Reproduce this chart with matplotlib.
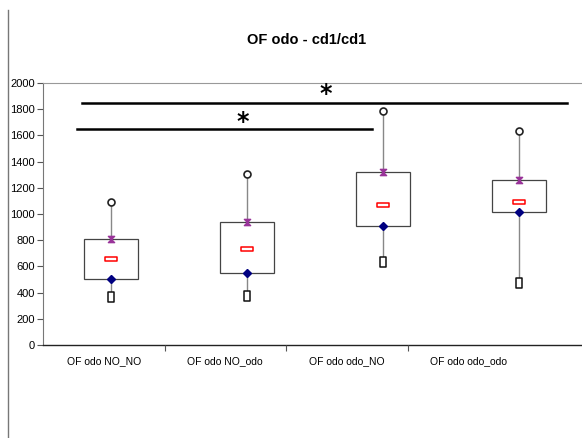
import numpy as np
import matplotlib
matplotlib.use("Agg")
import matplotlib.pyplot as plt
from matplotlib.lines import Line2D
from matplotlib.path import Path

plt.rcParams['font.family'] = ['Liberation Sans', 'DejaVu Sans']

# data
categories = ["OF odo NO_NO", "OF odo NO_odo", "OF odo odo_NO", "OF odo odo_odo"]
mins = [366, 374, 631, 473]
q1 = [504, 550, 908, 1013]
medians = [656, 735, 1071, 1092]
q3 = [806, 940, 1321, 1261]
maxs = [1089, 1303, 1784, 1636]
yticks = [0, 200, 400, 600, 800, 1000, 1200, 1400, 1600, 1800, 2000]

# significance brackets: (x start, x end, y, star x, star y) in box-axis units
sig_lines = [(0.25, 2.42, 1650, 1.47, 1700), (0.29, 3.85, 1850, 2.08, 1915)]

W, H = 582, 438
fig = plt.figure(figsize=(W / 100, H / 100), dpi=100)

left, bottom, top = 43, 345, 83
ax = fig.add_axes([left / W, (H - bottom) / H, 544 / W, (bottom - top) / H])
ax_lab = fig.add_axes([left / W, (H - bottom) / H, 486 / W, (bottom - top) / H], sharey=ax)

# box axis
ax.set_xlim(0, 4)
ax.set_ylim(0, 2000)
ax.set_yticks(yticks)
ax.tick_params(axis='y', direction='out', length=4, width=0.8, color='#555555', labelsize=8, pad=2)
ax.set_xticks([])
ax.spines['right'].set_visible(False)
ax.spines['left'].set_color('#777777')
ax.spines['top'].set_color('#999999')
ax.spines['bottom'].set_color('#222222')
ax.spines['bottom'].set_linewidth(1.0)

pos = np.arange(len(categories)) + 0.5
bw = 0.4
for i, x in enumerate(pos):
    ax.plot([x, x], [mins[i], maxs[i]], color='#888888', lw=1, zorder=1)
    ax.add_patch(plt.Rectangle((x - bw / 2, q1[i]), bw, q3[i] - q1[i],
                               facecolor='white', edgecolor='#444444', lw=0.9, zorder=2))

hourglass = Path([(-1, 1), (1, 1), (-1, -1), (1, -1), (-1, 1)],
                 [Path.MOVETO, Path.LINETO, Path.LINETO, Path.LINETO, Path.CLOSEPOLY])
dash = Path([(-1.3, -0.5), (1.3, -0.5), (1.3, 0.5), (-1.3, 0.5), (-1.3, -0.5)],
            [Path.MOVETO, Path.LINETO, Path.LINETO, Path.LINETO, Path.CLOSEPOLY])
tall_sq = Path([(-0.6, -1), (0.6, -1), (0.6, 1), (-0.6, 1), (-0.6, -1)],
               [Path.MOVETO, Path.LINETO, Path.LINETO, Path.LINETO, Path.CLOSEPOLY])

ax.plot(pos, maxs, 'o', ms=5, mfc='white', mec='#222222', mew=1.2, ls='none', zorder=3)
ax.plot(pos, q3, marker=hourglass, ms=4.5, color='#993399', ls='none', zorder=3)
ax.plot(pos, medians, marker=dash, ms=9, mfc='white', mec='red', mew=1.1, ls='none', zorder=3)
ax.plot(pos, q1, 'D', ms=4.5, color='#000080', ls='none', zorder=3)
ax.plot(pos, mins, marker=tall_sq, ms=6.5, mfc='white', mec='#111111', mew=1.1, ls='none', zorder=3)

for x0, x1, y, sx, sy in sig_lines:
    ax.plot([x0, x1], [y, y], color='black', lw=1.8, zorder=3, clip_on=False)
    ax.text(sx, sy, '*', fontsize=17, fontweight='bold', ha='center', va='center', family='DejaVu Sans')

# category label axis
ax_lab.patch.set_visible(False)
for s in ax_lab.spines.values():
    s.set_visible(False)
ax_lab.set_xlim(0, 4)
ax_lab.set_xticks([1, 2, 3])
ax_lab.set_xticklabels([])
ax_lab.set_xticks(pos, minor=True)
ax_lab.set_xticklabels(categories, minor=True, fontsize=7.5)
ax_lab.tick_params(axis='x', which='major', direction='out', length=4, color='#555555')
ax_lab.tick_params(axis='x', which='minor', length=0, pad=8)
ax_lab.tick_params(axis='y', left=False, labelleft=False)

fig.text(307 / W, 1 - 40 / H, "OF odo - cd1/cd1", ha='center', va='center', fontsize=10.5, fontweight='bold')
fig.add_artist(Line2D([8 / W, 8 / W], [0, 1 - 10 / H], color='#777777', lw=1))

fig.savefig("out.png", dpi=100)
